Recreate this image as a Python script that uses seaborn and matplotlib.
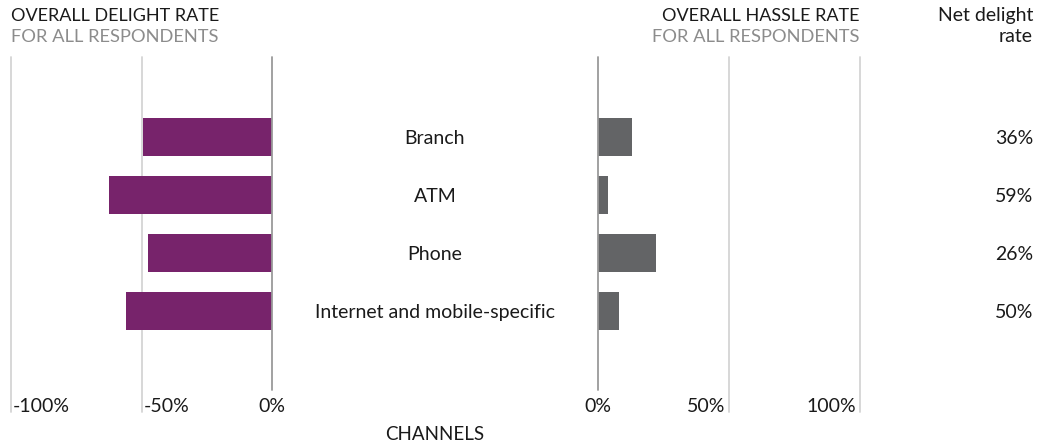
import matplotlib
matplotlib.use("Agg")
import matplotlib.pyplot as plt
import matplotlib.transforms as mtransforms
import pandas as pd
import seaborn as sns

# Survey results by channel
channels = ["Branch", "ATM", "Phone", "Internet and mobile-specific"]
delight_rate = [49.5, 62.5, 47.5, 56]   # % of respondents delighted
hassle_rate = [13, 4, 22, 8]            # % of respondents hassled
net_delight_labels = ["36%", "59%", "26%", "50%"]

left_ticks = [-100, -50, 0]
left_tick_labels = ["-100%", "-50%", "0%"]
right_ticks = [0, 50, 100]
right_tick_labels = ["0%", "50%", "100%"]

df = pd.DataFrame({
    "channel": channels,
    "delight": [-v for v in delight_rate],
    "hassle": hassle_rate,
})

sns.set_theme(style="white")
plt.rcParams["font.family"] = ["Lato", "DejaVu Sans"]

PURPLE = "#77236b"
BAR_GRAY = "#636466"
LIGHT_GRID = "#d4d4d4"
ZERO_LINE = "#9a9a9a"
TEXT = "#1a1a1a"
SUBTEXT = "#8c8c8c"

W, H = 1048, 447
fig = plt.figure(figsize=(W / 100, H / 100), dpi=100)

ax_bottom = (H - 412) / H
ax_height = 355 / H
ax_l = fig.add_axes([11 / W, ax_bottom, 261 / W, ax_height])
ax_r = fig.add_axes([598 / W, ax_bottom, 262 / W, ax_height])

sns.barplot(data=df, x="delight", y="channel", orient="h", color=PURPLE,
            width=0.65, saturation=1, linewidth=0, ax=ax_l, zorder=3)
sns.barplot(data=df, x="hassle", y="channel", orient="h", color=BAR_GRAY,
            width=0.65, saturation=1, linewidth=0, ax=ax_r, zorder=3)

ax_l.set_xlim(-100, 0)
ax_r.set_xlim(0, 100)
for ax in (ax_l, ax_r):
    ax.set_ylim(4.74, -1.38)
    ax.set_xlabel("")
    ax.set_ylabel("")
    ax.set_xticks([])
    ax.set_yticks([])
    for s in ax.spines.values():
        s.set_visible(False)
    ax.patch.set_alpha(0)

# Grid lines: light at the outer ticks, darker at zero
zero_bottom = (412 - 390) / 355
for ax, ticks in ((ax_l, left_ticks), (ax_r, right_ticks)):
    for t in ticks:
        if t == 0:
            ax.axvline(t, ymin=zero_bottom, ymax=1, color=ZERO_LINE, lw=1.3,
                       zorder=4, clip_on=False)
        else:
            ax.axvline(t, ymin=0, ymax=1, color=LIGHT_GRID, lw=1.3,
                       zorder=1, clip_on=False)

# Axis tick labels
tick_fs = 14
tick_y = (H - 406) / H


def tick_label(ax, x, label, ha):
    tf = mtransforms.blended_transform_factory(ax.transData, fig.transFigure)
    ax.text(x, tick_y, label, transform=tf, ha=ha, va="center",
            fontsize=tick_fs, color=TEXT)


tick_label(ax_l, -99.3, left_tick_labels[0], "left")
tick_label(ax_l, -49.3, left_tick_labels[1], "left")
tick_label(ax_l, 0, left_tick_labels[2], "center")
tick_label(ax_r, 0, right_tick_labels[0], "center")
tick_label(ax_r, 48.5, right_tick_labels[1], "right")
tick_label(ax_r, 98.5, right_tick_labels[2], "right")

# Channel names and net delight values aligned to bar rows
row_tf = mtransforms.blended_transform_factory(fig.transFigure, ax_r.transData)
for i, (name, net) in enumerate(zip(channels, net_delight_labels)):
    fig.text(435 / W, i + 0.02, name, transform=row_tf, ha="center",
             va="center", fontsize=14, color=TEXT)
    fig.text(1033 / W, i + 0.02, net, transform=row_tf, ha="right",
             va="center", fontsize=14, color=TEXT)

# Headers
fig.text(11 / W, 1 - 16 / H, "OVERALL DELIGHT RATE", ha="left", va="center",
         fontsize=13, color=TEXT)
fig.text(11 / W, 1 - 37 / H, "FOR ALL RESPONDENTS", ha="left", va="center",
         fontsize=13.2, color=SUBTEXT)
fig.text(859 / W, 1 - 16 / H, "OVERALL HASSLE RATE", ha="right", va="center",
         fontsize=13, color=TEXT)
fig.text(859 / W, 1 - 37 / H, "FOR ALL RESPONDENTS", ha="right", va="center",
         fontsize=13.2, color=SUBTEXT)
fig.text(1033 / W, 1 - 16 / H, "Net delight", ha="right", va="center",
         fontsize=14, color=TEXT)
fig.text(1033 / W, 1 - 37 / H, "rate", ha="right", va="center",
         fontsize=14, color=TEXT)
fig.text(435 / W, 1 - 435 / H, "CHANNELS", ha="center", va="center",
         fontsize=13.5, color=TEXT)

fig.savefig("out.png", dpi=100, facecolor="white")
